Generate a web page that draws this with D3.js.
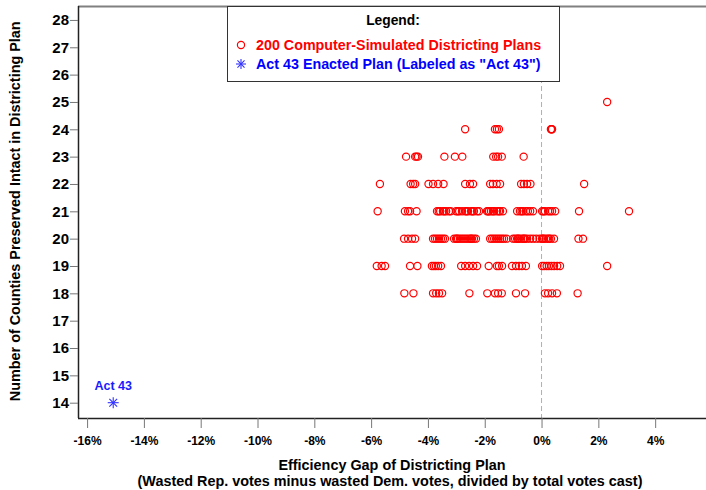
<!DOCTYPE html>
<html>
<head>
<meta charset="utf-8">
<script src="https://cdn.jsdelivr.net/npm/d3@7"></script>
<style>
  body { margin: 0; background: #fff; }
  svg { display: block; font-family: "Liberation Sans", Arial, sans-serif; font-weight: bold; }
</style>
</head>
<body>
<div class="chart"></div>
<script>
// Efficiency gap (%) of each simulated plan, grouped by counties preserved
const row25 = [2.31]
const row24 = [-2.69, -1.64, -1.57, -1.50, 0.33, 0.35, 0.37]
const row23 = [-4.77, -4.45, -4.40, -4.35, -3.42, -3.05, -2.79, -1.70, -1.60, -1.53, -1.40, -0.63]
const row22 = [-5.69, -4.61, -4.52, -4.45, -3.98, -3.82, -3.64, -3.45, -2.69, -2.52, -2.41,
  -1.81, -1.71, -1.58, -1.46, -0.72, -0.62, -0.51, -0.39, 1.50]
const row21 = [-5.77, -4.81, -4.70, -4.63, -4.40,
  -3.68, -3.62, -3.57, -3.47, -3.42, -3.36, -3.26, -3.20,
  -3.01, -2.95, -2.90, -2.80, -2.69, -2.64, -2.59, -2.48, -2.43, -2.38, -2.27, -2.20,
  -1.92, -1.88, -1.85, -1.78, -1.71, -1.67, -1.57, -1.50, -1.46, -1.36,
  -0.86, -0.76, -0.70, -0.65, -0.55, -0.48, -0.40, -0.30,
  0.02, 0.07, 0.12, 0.23, 0.30, 0.37, 0.48, 1.32, 3.08]
const row20 = [-4.84, -4.70, -4.56, -4.45,
  -3.82, -3.75, -3.68, -3.61, -3.54, -3.47, -3.40,
  -3.08, -3.01, -2.98, -2.94, -2.87, -2.80, -2.73, -2.66, -2.59, -2.52, -2.48, -2.45, -2.38, -2.31,
  -1.81, -1.74, -1.67, -1.60, -1.53, -1.46, -1.39, -1.32, -1.23,
  -1.00, -0.93, -0.86, -0.83, -0.79, -0.72, -0.65, -0.62, -0.58, -0.51, -0.40, -0.30, -0.19,
  -0.07, 0.02, 0.05, 0.09, 0.16, 0.23, 0.27, 0.33, 0.44, 1.30, 1.46]
const row19 = [-5.80, -5.63, -5.51, -4.63, -4.37, -3.86, -3.79, -3.72, -3.64, -3.54,
  -2.83, -2.69, -2.55, -2.41, -2.27, -1.86, -1.57, -1.50, -1.39,
  -1.04, -0.90, -0.79, -0.69, -0.55,
  0.02, 0.09, 0.18, 0.26, 0.35, 0.44, 0.55, 0.65, 2.31]
const row18 = [-4.83, -4.51, -3.82, -3.71, -3.61, -3.50, -2.54, -1.91, -1.64, -1.53, -1.40,
  -0.90, -0.58, 0.12, 0.23, 0.37, 0.54, 1.27]

const rows = [[25, row25], [24, row24], [23, row23], [22, row22], [21, row21], [20, row20], [19, row19], [18, row18]]
const plans = rows.flatMap(([c, xs]) => xs.map(x => ({ gap: x, counties: c })))

const act43 = { gap: -15.08, counties: 14 }

const yTicks = d3.range(14, 29)
const xTicks = d3.range(-16, 5, 2)

const fullWidth = 706, fullHeight = 490
const margin = { top: 6, right: 0, bottom: 72, left: 78 }
const width = fullWidth - margin.left - margin.right
const height = fullHeight - margin.top - margin.bottom

const svg = d3.select('.chart').append('svg')
  .attr('width', fullWidth)
  .attr('height', fullHeight)
const g = svg.append('g').attr('transform', `translate(${margin.left}, ${margin.top})`)

const xScale = d3.scaleLinear().domain([-16.32, 5.79]).range([0, width])
const yScale = d3.scaleLinear().domain([13.44, 28.51]).range([height, 0])

// top frame line
g.append('line')
  .attr('x1', 0).attr('x2', width).attr('y1', 0.5).attr('y2', 0.5)
  .style('stroke', '#808080').style('stroke-width', 2)

// zero reference line
g.append('line')
  .attr('x1', xScale(0)).attr('x2', xScale(0))
  .attr('y1', 0).attr('y2', height)
  .style('stroke', '#b0b0b0').style('stroke-width', 1)
  .style('stroke-dasharray', '5,3')

// axes
const gY = g.append('g')
  .call(d3.axisLeft(yScale).tickValues(yTicks).tickSize(8).tickPadding(1).tickFormat(d3.format('d')))
const gX = g.append('g')
  .attr('transform', `translate(0, ${height})`)
  .call(d3.axisBottom(xScale).tickValues(xTicks).tickSize(10).tickPadding(8).tickFormat(d => d + '%'))

svg.selectAll('.domain').style('stroke', '#222').style('stroke-width', 1.5)
gX.select('.domain').attr('d', `M0,0.5H${width}`)
gY.select('.domain').attr('d', `M0.5,0V${height}`)
svg.selectAll('.tick line').style('stroke', '#777')
svg.selectAll('.tick text')
  .style('fill', '#000')
  .style('font-family', '"Liberation Sans", Arial, sans-serif')
  .style('font-weight', 'bold')
gY.selectAll('.tick text').style('font-size', '15px')
gX.selectAll('.tick text').style('font-size', '12px')

// simulated plans
g.selectAll('circle.plan').data(plans).enter().append('circle')
  .attr('class', 'plan')
  .attr('cx', d => xScale(d.gap))
  .attr('cy', d => yScale(d.counties))
  .attr('r', 3.6)
  .style('fill', 'none')
  .style('stroke', '#ff0000')
  .style('stroke-width', 1.2)

function star(sel, x, y, r) {
  const s = sel.append('g').attr('transform', `translate(${x}, ${y})`)
  ;[0, 45, 90, 135].forEach(a => {
    const rad = a * Math.PI / 180
    s.append('line')
      .attr('x1', -r * Math.cos(rad)).attr('y1', -r * Math.sin(rad))
      .attr('x2', r * Math.cos(rad)).attr('y2', r * Math.sin(rad))
      .style('stroke', '#3333ff').style('stroke-width', 1.1)
  })
}

// enacted plan
star(g, xScale(act43.gap), yScale(act43.counties), 5.5)
g.append('text')
  .attr('x', xScale(act43.gap))
  .attr('y', yScale(act43.counties) - 13)
  .attr('text-anchor', 'middle')
  .style('font-size', '12.5px')
  .style('fill', '#1a1aff')
  .text('Act 43')

// axis titles
svg.append('text')
  .attr('transform', `translate(20, ${margin.top + yScale(21)}) rotate(-90)`)
  .attr('text-anchor', 'middle')
  .style('font-size', '14.4px')
  .text('Number of Counties Preserved Intact in Districting Plan')
svg.append('text')
  .attr('x', 392).attr('y', 470)
  .attr('text-anchor', 'middle')
  .style('font-size', '14.4px')
  .text('Efficiency Gap of Districting Plan')
svg.append('text')
  .attr('x', 390).attr('y', 486)
  .attr('text-anchor', 'middle')
  .style('font-size', '14.4px')
  .text('(Wasted Rep. votes minus wasted Dem. votes, divided by total votes cast)')

// legend
const legend = svg.append('g').attr('transform', 'translate(227, 6)')
legend.append('rect')
  .attr('x', 0.5).attr('y', 0.5).attr('width', 332).attr('height', 75)
  .style('fill', '#fff').style('stroke', '#333').style('stroke-width', 1)
legend.append('text')
  .attr('x', 166).attr('y', 19)
  .attr('text-anchor', 'middle')
  .style('font-size', '13.8px')
  .text('Legend:')
legend.append('circle')
  .attr('cx', 14).attr('cy', 39).attr('r', 3.6)
  .style('fill', 'none').style('stroke', '#ff0000').style('stroke-width', 1.2)
legend.append('text')
  .attr('x', 29).attr('y', 44)
  .style('font-size', '14.3px').style('fill', '#ff0000')
  .text('200 Computer-Simulated Districting Plans')
star(legend, 14, 58, 5)
legend.append('text')
  .attr('x', 29).attr('y', 63)
  .style('font-size', '14.3px').style('fill', '#0000ff')
  .text('Act 43 Enacted Plan (Labeled as "Act 43")')
</script>
</body>
</html>
